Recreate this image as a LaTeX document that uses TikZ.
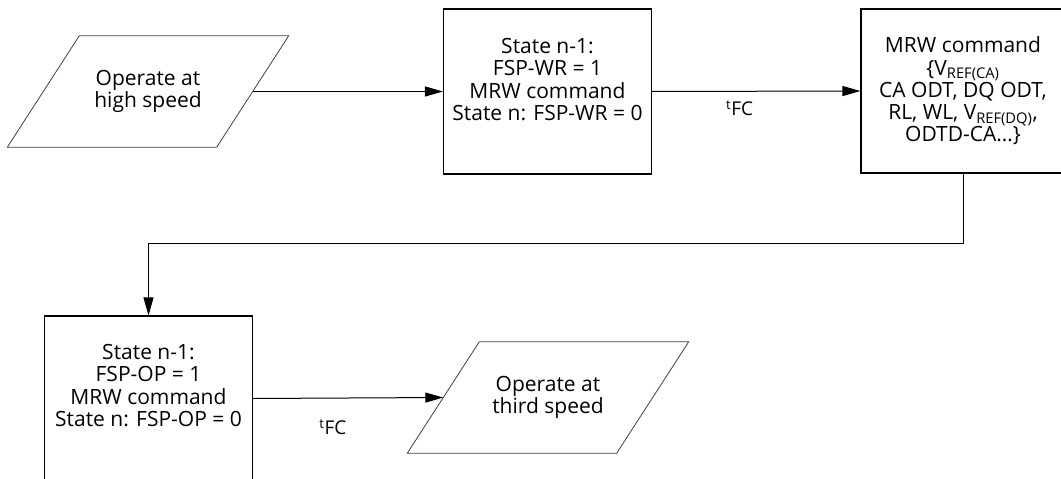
\documentclass[tikz,border=0pt]{standalone}
\usepackage{fontspec}
\setmainfont{Open Sans}
\usetikzlibrary{arrows.meta,calc,positioning}

\begin{document}
\begin{tikzpicture}[
    x=1pt, y=-1pt,
    font=\fontsize{21}{22.3}\selectfont,
    statebox/.style={draw=black, line width=1.1pt, minimum width=208pt, minimum height=165pt, inner sep=0pt},
    cmdbox/.style={draw=black, line width=1.1pt, minimum width=204pt, minimum height=164pt, align=center, inner sep=0pt},
    iobox/.style={minimum width=209pt, minimum height=111pt, inner sep=0pt, align=center},
    ioline/.style={draw=black!75, line width=0.8pt},
    arrow/.style={-{Triangle[length=18pt,width=10pt]}, line width=1pt},
    tfc/.style={font=\fontsize{19}{20}\selectfont, inner sep=0pt}
]
    \useasboundingbox (0,0) rectangle (1061,479);

    % Entree / sortie (parallelogrammes)
    \node[iobox] (high) at (148,91.5) {Operate at\\high speed};
    \node[iobox] (third) at (548,397.5) {Operate at\\third speed};
    \foreach \io in {high,third}
        \draw[ioline] ($(\io.north west)+(36,0)$) -- ($(\io.north east)+(36,0)$)
            -- ($(\io.south east)+(-36,0)$) -- ($(\io.south west)+(-36,0)$) -- cycle;

    % Etapes FSP
    \node[statebox] (wr) at (547.5,91.5) {};
    \node[align=center] (wrtext) at (547.5,79.5) {State n-1:\\FSP-WR = 1\\MRW command\\State n: FSP-WR = 0};

    \node[cmdbox] (cmd) at (963,91) {MRW command\\
        \{V\textsubscript{REF(CA)}\\
        CA ODT, DQ ODT,\\
        RL, WL, V\textsubscript{REF(DQ)},\\
        ODTD-CA\ldots\}};

    \node[statebox] (op) at (148.5,398.5) {};
    \node[align=center] (optext) at (148.5,385.5) {State n-1:\\FSP-OP = 1\\MRW command\\State n: FSP-OP = 0};

    % Fleches
    \draw[arrow] (high.east) -- (wr.west);
    \draw[arrow] (wr.east) -- node[pos=0.42, below=9pt, tfc] {\textsuperscript{t}FC} (cmd.west);
    \draw[arrow] (cmd.south) -- ++(0,70) -| (op.north);
    \draw[arrow] (op.east) -- node[pos=0.42, below=21pt, tfc] {\textsuperscript{t}FC} (third.west);

\end{tikzpicture}
\end{document}
